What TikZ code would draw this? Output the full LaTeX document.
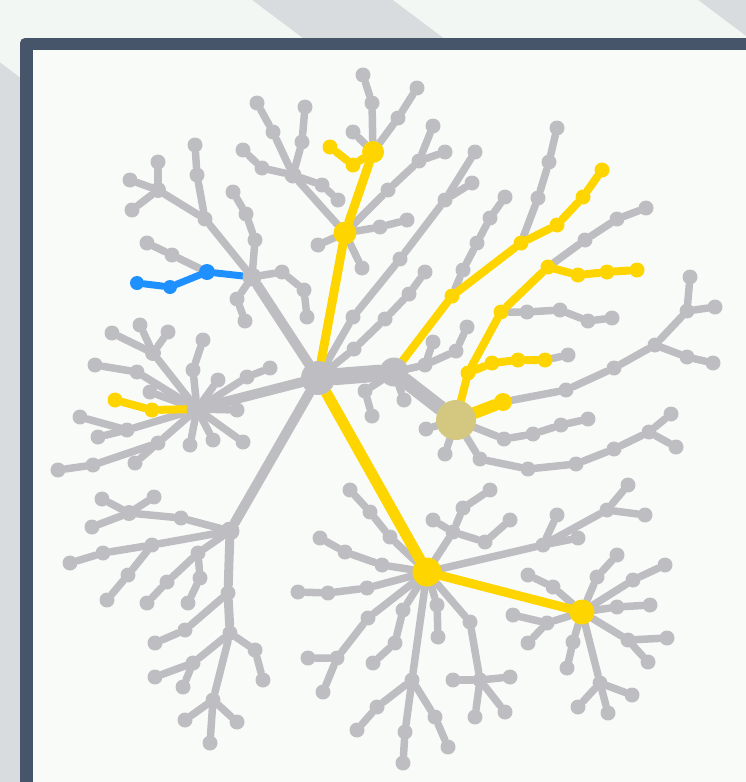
\documentclass[tikz,border=0pt]{standalone}
\usetikzlibrary{backgrounds}
\definecolor{twiggray}{RGB}{190,190,194}
\definecolor{pathgold}{RGB}{255,213,0}
\definecolor{pathblue}{RGB}{30,144,255}
\definecolor{roottan}{RGB}{212,199,128}
\definecolor{framedark}{RGB}{70,85,105}
\definecolor{paper}{RGB}{249,251,249}
\definecolor{bandgray}{RGB}{216,220,223}
\definecolor{bandlight}{RGB}{243,247,243}
\begin{document}
\begin{tikzpicture}[x=1pt,y=-1pt,
  bud/.style={circle,fill=twiggray,inner sep=0pt,minimum size=15pt},
  ybud/.style={bud,fill=pathgold},
  bbud/.style={bud,fill=pathblue,minimum size=14pt},
  twig/.style={draw=twiggray,line width=7.5pt,line cap=round},
  ytwig/.style={twig,draw=pathgold,line width=8pt},
  btwig/.style={twig,draw=pathblue,line width=7pt}]
\useasboundingbox (0,0) rectangle (746,782);
\clip (0,0) rectangle (746,782);
\node[bud,minimum size=34pt] (h0) at (318,378) {};
\node[bud,minimum size=29pt] (h1) at (394,372) {};
\node[bud,fill=roottan,minimum size=40pt] (t) at (456,420) {};
\node[bud,minimum size=19pt] (nw) at (252,277) {};
\node[bud,minimum size=21pt] (w) at (197,409) {};
\node[bud,minimum size=19pt] (l) at (230,531) {};
\node[ybud,minimum size=29pt] (s) at (427,572) {};
\node[ybud,minimum size=25pt] (se) at (582,612) {};
\node[ybud,minimum size=23pt] (y1) at (345,233) {};
\node[ybud,minimum size=22pt] (y2) at (373,152) {};
\node[bud,minimum size=17pt] (p) at (293,175) {};
\node[bud] (a1) at (205,219) {};
\node[bud,minimum size=16pt] (a2) at (158,190) {};
\node[bud] (a3) at (130,180) {};
\node[bud] (a4) at (158,162) {};
\node[bud] (a5) at (132,210) {};
\node[bud] (a6) at (197,175) {};
\node[bud] (a7) at (195,145) {};
\node[bud] (a8) at (255,240) {};
\node[bud] (a9) at (246,214) {};
\node[bud] (a10) at (233,192) {};
\node[bud] (a11) at (172,255) {};
\node[bud] (a12) at (147,243) {};
\node[bud] (a13) at (282,272) {};
\node[bud] (a14) at (304,290) {};
\node[bud] (a15) at (307,317) {};
\node[bud] (a16) at (237,299) {};
\node[bud] (a17) at (245,321) {};
\node[bbud,minimum size=16pt] (b1) at (207,272) {};
\node[bbud] (b2) at (170,287) {};
\node[bbud] (b3) at (137,283) {};
\node[bud] (c1) at (273,132) {};
\node[bud] (c2) at (257,103) {};
\node[bud] (c3) at (302,142) {};
\node[bud] (c4) at (305,107) {};
\node[bud] (c5) at (262,168) {};
\node[bud] (c6) at (243,150) {};
\node[bud] (c7) at (322,185) {};
\node[bud] (c8) at (338,200) {};
\node[bud] (c9) at (362,268) {};
\node[bud] (c10) at (318,245) {};
\node[bud] (c11) at (380,227) {};
\node[bud] (c12) at (407,220) {};
\node[bud] (c13) at (388,190) {};
\node[bud] (c14) at (419,161) {};
\node[bud] (c15) at (433,126) {};
\node[bud] (c16) at (445,152) {};
\node[bud] (c17) at (372,103) {};
\node[bud] (c18) at (363,75) {};
\node[bud] (c19) at (398,118) {};
\node[bud] (c20) at (417,88) {};
\node[bud] (c21) at (353,132) {};
\node[ybud] (c22) at (353,165) {};
\node[ybud] (c23) at (330,147) {};
\node[bud] (d1) at (353,317) {};
\node[bud] (d2) at (400,259) {};
\node[bud] (d3) at (445,200) {};
\node[bud] (d4) at (475,152) {};
\node[bud] (d5) at (472,183) {};
\node[bud] (d6) at (354,349) {};
\node[bud] (d7) at (385,319) {};
\node[bud] (d8) at (409,294) {};
\node[bud] (d9) at (425,272) {};
\node[bud] (e1) at (425,365) {};
\node[bud] (e2) at (433,342) {};
\node[bud] (e3) at (456,351) {};
\node[bud] (e4) at (467,327) {};
\node[bud] (e5) at (365,391) {};
\node[bud] (e6) at (372,416) {};
\node[bud] (e7) at (404,400) {};
\node[ybud] (q1) at (452,296) {};
\node[ybud] (q2) at (521,243) {};
\node[ybud] (q3) at (557,225) {};
\node[ybud] (q4) at (583,197) {};
\node[ybud] (q5) at (602,170) {};
\node[bud] (q6) at (463,270) {};
\node[bud] (q7) at (477,243) {};
\node[bud] (q8) at (490,218) {};
\node[bud] (q9) at (505,197) {};
\node[bud] (q10) at (538,198) {};
\node[bud] (q11) at (549,162) {};
\node[bud] (q12) at (557,128) {};
\node[ybud] (g1) at (468,373) {};
\node[ybud] (g2) at (501,312) {};
\node[ybud] (g3) at (548,267) {};
\node[ybud] (g4) at (578,275) {};
\node[ybud] (g5) at (607,272) {};
\node[ybud] (g6) at (637,270) {};
\node[bud] (g7) at (585,240) {};
\node[bud] (g8) at (617,219) {};
\node[bud] (g9) at (646,208) {};
\node[ybud] (g10) at (492,363) {};
\node[ybud] (g11) at (518,360) {};
\node[ybud] (g12) at (545,360) {};
\node[bud] (g13) at (568,355) {};
\node[bud] (g14) at (527,312) {};
\node[bud] (g15) at (560,310) {};
\node[bud] (g16) at (588,321) {};
\node[bud] (g17) at (612,318) {};
\node[ybud,minimum size=18pt] (g18) at (503,402) {};
\node[bud] (g19) at (566,390) {};
\node[bud] (g20) at (614,368) {};
\node[bud] (g21) at (655,345) {};
\node[bud] (g22) at (687,311) {};
\node[bud] (g23) at (690,277) {};
\node[bud] (g24) at (715,307) {};
\node[bud] (g25) at (687,357) {};
\node[bud] (g26) at (713,363) {};
\node[bud] (g27) at (504,439) {};
\node[bud] (g28) at (533,434) {};
\node[bud] (g29) at (561,425) {};
\node[bud] (g30) at (588,419) {};
\node[bud] (g31) at (480,459) {};
\node[bud] (g32) at (528,469) {};
\node[bud] (g33) at (576,464) {};
\node[bud] (g34) at (614,449) {};
\node[bud] (g35) at (649,432) {};
\node[bud] (g36) at (671,414) {};
\node[bud] (g37) at (676,447) {};
\node[bud] (g38) at (426,429) {};
\node[bud] (g39) at (445,454) {};
\node[ybud] (k1) at (152,410) {};
\node[ybud] (k2) at (115,400) {};
\node[bud] (k3) at (137,372) {};
\node[bud] (k4) at (95,365) {};
\node[bud,minimum size=16pt] (k5) at (153,353) {};
\node[bud] (k6) at (112,333) {};
\node[bud] (k7) at (140,325) {};
\node[bud] (k8) at (168,332) {};
\node[bud] (k9) at (193,370) {};
\node[bud] (k10) at (203,340) {};
\node[bud] (k11) at (218,380) {};
\node[bud] (k12) at (247,377) {};
\node[bud] (k13) at (270,368) {};
\node[bud] (k14) at (237,410) {};
\node[bud] (k15) at (243,442) {};
\node[bud] (k16) at (213,440) {};
\node[bud] (k17) at (190,445) {};
\node[bud] (k18) at (127,430) {};
\node[bud] (k19) at (80,417) {};
\node[bud] (k20) at (98,437) {};
\node[bud] (k21) at (158,443) {};
\node[bud] (k22) at (93,465) {};
\node[bud] (k23) at (58,470) {};
\node[bud] (k24) at (135,463) {};
\node[bud] (k25) at (150,392) {};
\node[bud] (m1) at (181,518) {};
\node[bud,minimum size=16pt] (m2) at (129,513) {};
\node[bud] (m3) at (102,499) {};
\node[bud] (m4) at (154,497) {};
\node[bud] (m5) at (92,527) {};
\node[bud] (m6) at (152,545) {};
\node[bud] (m7) at (103,553) {};
\node[bud] (m8) at (70,563) {};
\node[bud] (m9) at (128,575) {};
\node[bud] (m10) at (107,600) {};
\node[bud] (m11) at (198,553) {};
\node[bud] (m12) at (167,582) {};
\node[bud] (m13) at (147,603) {};
\node[bud] (m14) at (200,578) {};
\node[bud] (m15) at (188,603) {};
\node[bud] (m16) at (228,593) {};
\node[bud] (m17) at (230,633) {};
\node[bud] (m18) at (213,700) {};
\node[bud] (m19) at (210,743) {};
\node[bud] (m20) at (185,630) {};
\node[bud] (m21) at (155,643) {};
\node[bud] (m22) at (255,650) {};
\node[bud] (m23) at (263,680) {};
\node[bud] (m24) at (193,663) {};
\node[bud] (m25) at (155,677) {};
\node[bud] (m26) at (183,687) {};
\node[bud] (m27) at (185,720) {};
\node[bud] (m28) at (237,722) {};
\node[bud] (n1) at (390,537) {};
\node[bud] (n2) at (370,512) {};
\node[bud] (n3) at (350,490) {};
\node[bud] (n4) at (382,565) {};
\node[bud] (n5) at (345,552) {};
\node[bud] (n6) at (320,538) {};
\node[bud] (n7) at (367,588) {};
\node[bud] (n8) at (328,593) {};
\node[bud] (n9) at (298,592) {};
\node[bud] (n10) at (368,618) {};
\node[bud] (n11) at (337,658) {};
\node[bud] (n12) at (308,658) {};
\node[bud] (n13) at (323,692) {};
\node[bud] (n14) at (403,610) {};
\node[bud] (n15) at (395,643) {};
\node[bud] (n16) at (373,663) {};
\node[bud] (n17) at (412,680) {};
\node[bud] (n18) at (405,732) {};
\node[bud] (n19) at (403,763) {};
\node[bud] (n20) at (377,707) {};
\node[bud] (n21) at (357,730) {};
\node[bud] (n22) at (435,717) {};
\node[bud] (n23) at (448,747) {};
\node[bud] (n24) at (437,605) {};
\node[bud] (n25) at (438,637) {};
\node[bud] (n26) at (470,622) {};
\node[bud] (n27) at (480,680) {};
\node[bud] (n28) at (453,680) {};
\node[bud] (n29) at (510,677) {};
\node[bud] (n30) at (475,717) {};
\node[bud] (n31) at (505,712) {};
\node[bud] (n32) at (453,532) {};
\node[bud] (n33) at (433,520) {};
\node[bud] (n34) at (463,508) {};
\node[bud] (n35) at (490,490) {};
\node[bud] (n36) at (485,542) {};
\node[bud] (n37) at (510,520) {};
\node[bud] (n38) at (543,545) {};
\node[bud] (n39) at (607,510) {};
\node[bud] (n40) at (628,485) {};
\node[bud] (n41) at (645,515) {};
\node[bud] (n42) at (557,515) {};
\node[bud] (n43) at (578,538) {};
\node[bud] (o1) at (553,587) {};
\node[bud] (o2) at (528,575) {};
\node[bud] (o3) at (597,577) {};
\node[bud] (o4) at (617,555) {};
\node[bud] (o5) at (633,580) {};
\node[bud] (o6) at (665,565) {};
\node[bud] (o7) at (617,607) {};
\node[bud] (o8) at (650,605) {};
\node[bud] (o9) at (628,640) {};
\node[bud] (o10) at (667,638) {};
\node[bud] (o11) at (648,662) {};
\node[bud] (o12) at (547,623) {};
\node[bud] (o13) at (513,615) {};
\node[bud] (o14) at (528,643) {};
\node[bud] (o15) at (573,642) {};
\node[bud] (o16) at (567,668) {};
\node[bud] (o17) at (600,683) {};
\node[bud] (o18) at (578,707) {};
\node[bud] (o19) at (608,713) {};
\node[bud] (o20) at (632,695) {};
\begin{scope}[on background layer]
\fill[bandgray] (0,0) rectangle (746,782);
\fill[bandlight] (-83,0) -- (252,0) -- (1585,1000) -- (1250,1000) -- cycle;
\fill[bandlight] (393,0) -- (698,0) -- (2031,1000) -- (1726,1000) -- cycle;
\fill[framedark,rounded corners=5pt] (20,38) rectangle (770,800);
\fill[paper] (33,50) rectangle (770,800);
\draw[twig,line width=17pt] (h0) -- (h1);
\draw[twig,line width=15pt] (h1) -- (t);
\draw[twig,line width=10pt] (h0) -- (nw);
\draw[twig,line width=10pt] (h0) -- (w);
\draw[twig,line width=10pt] (h0) -- (l);
\draw[twig,line width=9pt] (l) -- (m16) -- (m17);
\draw[twig] (nw) -- (a1) -- (a2) -- (a3);
\draw[twig] (a2) -- (a4);
\draw[twig] (a2) -- (a5);
\draw[twig] (a1) -- (a6) -- (a7);
\draw[twig] (nw) -- (a8) -- (a9) -- (a10);
\draw[twig] (b1) -- (a11) -- (a12);
\draw[twig] (nw) -- (a13) -- (a14) -- (a15);
\draw[twig] (nw) -- (a16) -- (a17);
\draw[twig] (y1) -- (p);
\draw[twig] (p) -- (c1) -- (c2);
\draw[twig] (p) -- (c3) -- (c4);
\draw[twig] (p) -- (c5) -- (c6);
\draw[twig] (p) -- (c7) -- (c8);
\draw[twig] (y1) -- (c9);
\draw[twig] (y1) -- (c10);
\draw[twig] (y1) -- (c11) -- (c12);
\draw[twig] (y1) -- (c13) -- (c14) -- (c15);
\draw[twig] (c14) -- (c16);
\draw[twig] (y2) -- (c17) -- (c18);
\draw[twig] (y2) -- (c19) -- (c20);
\draw[twig] (y2) -- (c21);
\draw[twig] (h0) -- (d1) -- (d2) -- (d3) -- (d4);
\draw[twig] (d3) -- (d5);
\draw[twig] (h0) -- (d6) -- (d7) -- (d8) -- (d9);
\draw[twig] (h1) -- (e1) -- (e2);
\draw[twig] (e1) -- (e3) -- (e4);
\draw[twig] (h1) -- (e5) -- (e6);
\draw[twig] (h1) -- (e7);
\draw[twig] (q1) -- (q6) -- (q7) -- (q8) -- (q9);
\draw[twig] (q2) -- (q10) -- (q11) -- (q12);
\draw[twig] (g3) -- (g7) -- (g8) -- (g9);
\draw[twig] (g12) -- (g13);
\draw[twig] (g2) -- (g14) -- (g15) -- (g16) -- (g17);
\draw[twig] (g18) -- (g19) -- (g20) -- (g21) -- (g22) -- (g23);
\draw[twig] (g22) -- (g24);
\draw[twig] (g21) -- (g25) -- (g26);
\draw[twig] (t) -- (g27) -- (g28) -- (g29) -- (g30);
\draw[twig] (t) -- (g31) -- (g32) -- (g33) -- (g34) -- (g35) -- (g36);
\draw[twig] (g35) -- (g37);
\draw[twig] (t) -- (g38);
\draw[twig] (t) -- (g39);
\draw[twig] (w) -- (k3) -- (k4);
\draw[twig] (w) -- (k5) -- (k6);
\draw[twig] (k5) -- (k7);
\draw[twig] (k5) -- (k8);
\draw[twig] (w) -- (k9) -- (k10);
\draw[twig] (w) -- (k11);
\draw[twig] (w) -- (k12) -- (k13);
\draw[twig] (w) -- (k14);
\draw[twig] (w) -- (k15);
\draw[twig] (w) -- (k16);
\draw[twig] (w) -- (k17);
\draw[twig] (w) -- (k18) -- (k19);
\draw[twig] (k18) -- (k20);
\draw[twig] (w) -- (k21) -- (k22) -- (k23);
\draw[twig] (k21) -- (k24);
\draw[twig] (w) -- (k25);
\draw[twig] (l) -- (m1) -- (m2) -- (m3);
\draw[twig] (m2) -- (m4);
\draw[twig] (m2) -- (m5);
\draw[twig] (l) -- (m6) -- (m7) -- (m8);
\draw[twig] (m6) -- (m9) -- (m10);
\draw[twig] (l) -- (m11) -- (m12) -- (m13);
\draw[twig] (m11) -- (m14) -- (m15);
\draw[twig] (m16) -- (m20) -- (m21);
\draw[twig] (m17) -- (m18) -- (m19);
\draw[twig] (m17) -- (m22) -- (m23);
\draw[twig] (m17) -- (m24) -- (m25);
\draw[twig] (m24) -- (m26);
\draw[twig] (m18) -- (m27);
\draw[twig] (m18) -- (m28);
\draw[twig] (s) -- (n1) -- (n2) -- (n3);
\draw[twig] (s) -- (n4) -- (n5) -- (n6);
\draw[twig] (s) -- (n7) -- (n8) -- (n9);
\draw[twig] (s) -- (n10) -- (n11) -- (n12);
\draw[twig] (n11) -- (n13);
\draw[twig] (s) -- (n14) -- (n15) -- (n16);
\draw[twig] (s) -- (n17) -- (n18) -- (n19);
\draw[twig] (n17) -- (n20) -- (n21);
\draw[twig] (n17) -- (n22) -- (n23);
\draw[twig] (s) -- (n24) -- (n25);
\draw[twig] (s) -- (n26) -- (n27) -- (n30);
\draw[twig] (n27) -- (n28);
\draw[twig] (n27) -- (n29);
\draw[twig] (n27) -- (n31);
\draw[twig] (s) -- (n32) -- (n33);
\draw[twig] (n32) -- (n34) -- (n35);
\draw[twig] (n32) -- (n36) -- (n37);
\draw[twig] (s) -- (n38) -- (n39) -- (n40);
\draw[twig] (n39) -- (n41);
\draw[twig] (n38) -- (n42);
\draw[twig] (n38) -- (n43);
\draw[twig] (se) -- (o1) -- (o2);
\draw[twig] (se) -- (o3) -- (o4);
\draw[twig] (se) -- (o5) -- (o6);
\draw[twig] (se) -- (o7) -- (o8);
\draw[twig] (se) -- (o9) -- (o10);
\draw[twig] (o9) -- (o11);
\draw[twig] (se) -- (o12) -- (o13);
\draw[twig] (o12) -- (o14);
\draw[twig] (se) -- (o15) -- (o16);
\draw[twig] (se) -- (o17) -- (o18);
\draw[twig] (o17) -- (o19);
\draw[twig] (o17) -- (o20);
\draw[ytwig,line width=11pt] (h0) -- (s);
\draw[ytwig,line width=9pt] (s) -- (se);
\draw[ytwig,line width=9pt] (h0) -- (y1) -- (y2);
\draw[ytwig] (y2) -- (c22) -- (c23);
\draw[ytwig] (h1) -- (q1) -- (q2) -- (q3) -- (q4) -- (q5);
\draw[ytwig] (t) -- (g1) -- (g2) -- (g3) -- (g4) -- (g5) -- (g6);
\draw[ytwig] (g1) -- (g10) -- (g11) -- (g12);
\draw[ytwig,line width=12pt] (t) -- (g18);
\draw[ytwig] (w) -- (k1) -- (k2);
\draw[btwig] (nw) -- (b1) -- (b2) -- (b3);
\end{scope}
\end{tikzpicture}
\end{document}
